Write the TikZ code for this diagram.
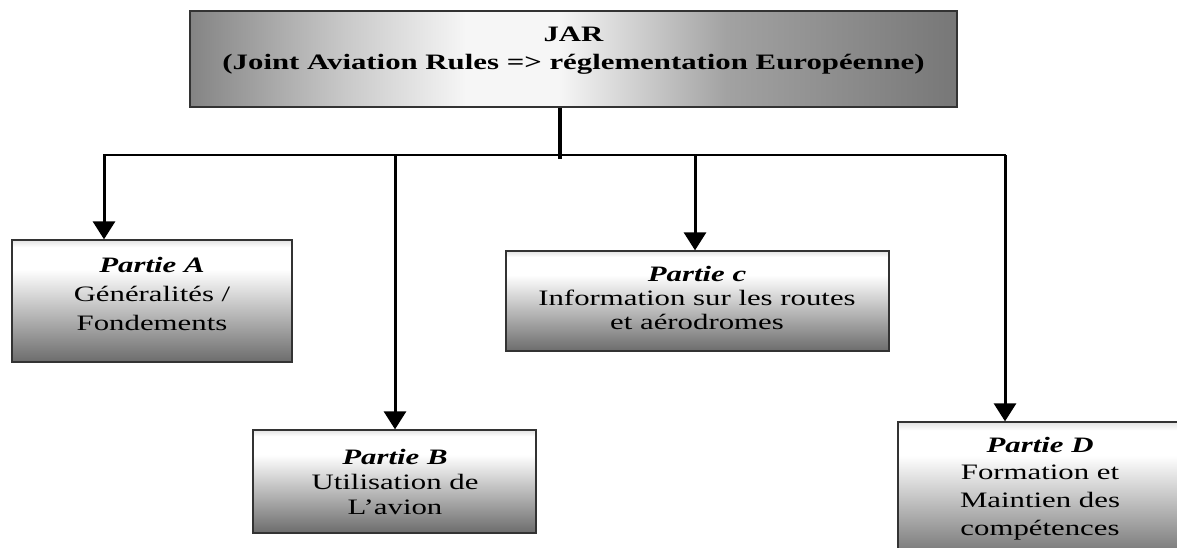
\documentclass[tikz,border=0pt]{standalone}
\usepackage{fontspec}
\setmainfont{Liberation Serif}[FakeStretch=1.4]
\usetikzlibrary{arrows.meta}

% colours
\definecolor{edge}{HTML}{333333}
\definecolor{pbot}{HTML}{6C6C6C}
\definecolor{ptop}{HTML}{E2E2E2}
\definecolor{jleft}{HTML}{848484}
\definecolor{jlight}{HTML}{C8C8C8}
\definecolor{jwhite}{HTML}{F6F6F6}
\definecolor{jmid}{HTML}{A2A2A2}
\definecolor{jright}{HTML}{777777}

% light top, dark bottom for the four parts
\pgfdeclareverticalshading{partshade}{100bp}{color(0bp)=(pbot); color(25bp)=(pbot); color(63bp)=(white); color(72bp)=(white); color(75bp)=(ptop); color(100bp)=(ptop)}
% grey - white - grey sweep for the title box
\pgfdeclarehorizontalshading{jarshade}{100bp}{color(0bp)=(jleft); color(25bp)=(jleft); color(35bp)=(jlight); color(43bp)=(jwhite); color(49bp)=(jwhite); color(60bp)=(jmid); color(75bp)=(jright); color(100bp)=(jright)}

\tikzset{
  jarbox/.style={rectangle, draw=edge, line width=1.3pt, shade, shading=jarshade, inner sep=0pt},
  partbox/.style={rectangle, draw=edge, line width=1.3pt, shade, shading=partshade, inner sep=0pt},
  boxtext/.style={align=center, inner sep=0pt},
  feed/.style={line width=3pt, -{Triangle[width=22pt,length=18pt]}},
  rail/.style={line width=1.8pt, line cap=rect},
  stem/.style={line width=4pt},
}

\begin{document}
\begin{tikzpicture}[x=1pt, y=-1pt]
  \useasboundingbox (0,0) rectangle (1177,547);
  \clip (0,0) rectangle (1177,547);

  % title box
  \node[jarbox, minimum width=767pt, minimum height=96pt] (jar) at (573.5,59) {};
  \node[boxtext, font=\bfseries\fontsize{22}{28}\selectfont] (jart) at (573.5,51)
    {JAR\\(Joint Aviation Rules => réglementation Européenne)};

  % the four parts
  \node[partbox, minimum width=280pt, minimum height=122pt] (A) at (152,301) {};
  \node[boxtext, font=\fontsize{22}{29}\selectfont] (At) at (152,294)
    {\textbf{\textit{Partie A}}\\Généralités /\\Fondements};

  \node[partbox, minimum width=283pt, minimum height=103pt] (B) at (394.5,481.5) {};
  \node[boxtext, font=\fontsize{22}{25}\selectfont] (Bt) at (395,482)
    {\textbf{\textit{Partie B}}\\Utilisation de\\L’avion};

  \node[partbox, minimum width=383pt, minimum height=100pt] (C) at (697.5,301) {};
  \node[boxtext, font=\fontsize{22}{24}\selectfont] (Ct) at (697,298)
    {\textbf{\textit{Partie c}}\\Information sur les routes\\et aérodromes};

  \node[partbox, minimum width=284pt, minimum height=140pt] (D) at (1040,492) {};
  \node[boxtext, font=\fontsize{22}{27.7}\selectfont] (Dt) at (1040,488.5)
    {\textbf{\textit{Partie D}}\\Formation et\\Maintien des\\compétences};

  % branch points on the distribution rail
  \coordinate (s) at (560,159);
  \coordinate (ha) at (104,155);
  \coordinate (hb) at (395,155);
  \coordinate (hc) at (695,155);
  \coordinate (hd) at (1005,155);

  % connectors
  \draw[stem] (jar.south -| s) -- (s);
  \draw[rail] (ha) -- (hd);
  \draw[feed] (ha) -- (ha |- A.north);
  \draw[feed] (hb) -- (hb |- B.north);
  \draw[feed] (hc) -- (hc |- C.north);
  \draw[feed] (hd) -- (hd |- D.north);
\end{tikzpicture}
\end{document}
